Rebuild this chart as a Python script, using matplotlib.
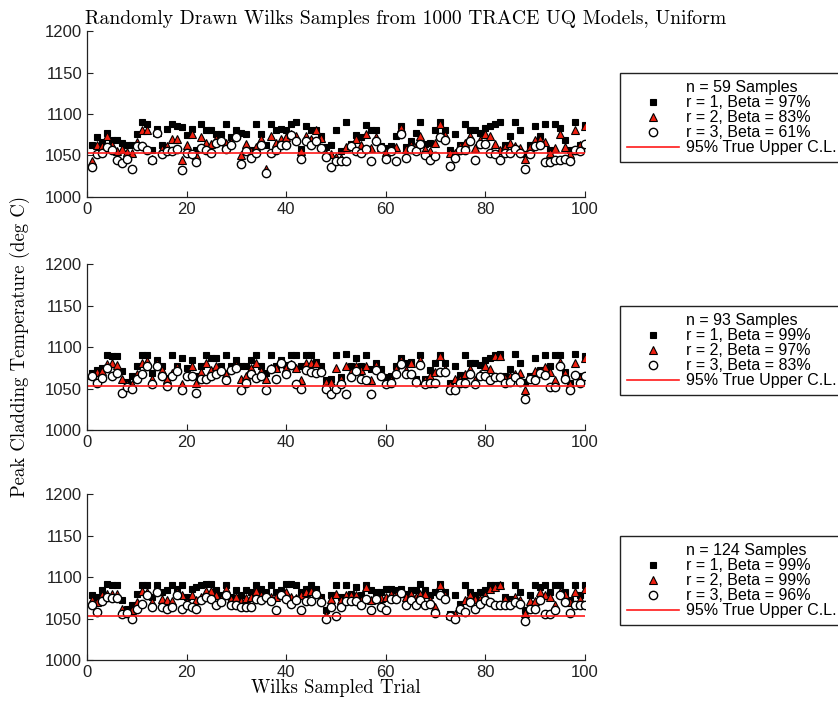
import numpy as np
import matplotlib.pyplot as plt
from matplotlib.lines import Line2D

plt.rcParams['font.family'] = ['Liberation Sans', 'DejaVu Sans']

trial = np.arange(1, 101)
ucl = 1053

# n = 59 samples
p1_r1 = [1063, 1072, 1066, 1077, 1068, 1069, 1065, 1062, 1063, 1076,
         1090, 1088, 1056, 1082, 1063, 1082, 1088, 1085, 1084, 1075,
         1082, 1056, 1088, 1080, 1080, 1076, 1076, 1088, 1072, 1080,
         1077, 1076, 1056, 1088, 1076, 1063, 1088, 1080, 1082, 1080,
         1088, 1090, 1058, 1086, 1080, 1080, 1073, 1060, 1062, 1080,
         1055, 1090, 1064, 1075, 1072, 1087, 1080, 1080, 1061, 1059,
         1061, 1073, 1085, 1060, 1067, 1077, 1090, 1064, 1065, 1080,
         1090, 1080, 1056, 1076, 1063, 1088, 1081, 1080, 1077, 1083,
         1085, 1088, 1090, 1063, 1073, 1090, 1080, 1051, 1063, 1085,
         1073, 1088, 1056, 1088, 1083, 1069, 1056, 1090, 1063, 1087]
p1_r2 = [1043, 1062, 1061, 1073, 1063, 1055, 1058, 1054, 1053, 1066,
         1080, 1080, 1046, 1078, 1058, 1061, 1070, 1070, 1044, 1063,
         1076, 1050, 1072, 1065, 1064, 1070, 1070, 1065, 1066, 1075,
         1050, 1064, 1055, 1060, 1070, 1033, 1073, 1065, 1070, 1072,
         1076, 1073, 1055, 1073, 1070, 1080, 1071, 1051, 1052, 1048,
         1047, 1060, 1062, 1070, 1063, 1076, 1059, 1072, 1060, 1054,
         1058, 1060, 1083, 1058, 1063, 1061, 1073, 1058, 1055, 1065,
         1088, 1075, 1053, 1053, 1061, 1065, 1073, 1059, 1068, 1076,
         1073, 1064, 1056, 1060, 1065, 1061, 1059, 1046, 1060, 1069,
         1070, 1066, 1053, 1059, 1076, 1060, 1051, 1080, 1062, 1085]
p1_r3 = [1036, 1052, 1053, 1060, 1057, 1044, 1041, 1045, 1033, 1061,
         1061, 1056, 1044, 1077, 1051, 1055, 1055, 1058, 1032, 1053,
         1052, 1042, 1059, 1056, 1053, 1065, 1067, 1058, 1062, 1072,
         1040, 1055, 1047, 1053, 1063, 1029, 1053, 1057, 1062, 1063,
         1075, 1067, 1046, 1067, 1063, 1067, 1059, 1048, 1036, 1043,
         1043, 1043, 1061, 1055, 1053, 1058, 1043, 1067, 1059, 1045,
         1055, 1043, 1076, 1047, 1058, 1055, 1064, 1050, 1044, 1049,
         1072, 1069, 1037, 1047, 1056, 1056, 1067, 1044, 1064, 1064,
         1053, 1051, 1044, 1053, 1053, 1058, 1053, 1034, 1051, 1061,
         1062, 1042, 1042, 1044, 1044, 1045, 1043, 1057, 1055, 1064]

# n = 93 samples
p2_r1 = [1069, 1073, 1075, 1091, 1089, 1089, 1071, 1058, 1065, 1077,
         1091, 1091, 1069, 1084, 1077, 1063, 1091, 1077, 1087, 1075,
         1084, 1065, 1077, 1091, 1087, 1087, 1077, 1090, 1077, 1084,
         1077, 1077, 1084, 1090, 1077, 1069, 1090, 1077, 1084, 1079,
         1090, 1090, 1077, 1090, 1090, 1082, 1077, 1060, 1062, 1090,
         1064, 1092, 1077, 1087, 1077, 1090, 1074, 1081, 1074, 1064,
         1065, 1077, 1087, 1081, 1082, 1062, 1090, 1061, 1072, 1081,
         1090, 1081, 1057, 1077, 1066, 1090, 1081, 1081, 1078, 1085,
         1087, 1090, 1092, 1065, 1074, 1092, 1081, 1058, 1065, 1087,
         1073, 1090, 1077, 1090, 1090, 1070, 1057, 1092, 1065, 1089]
p2_r2 = [1066, 1070, 1071, 1080, 1081, 1079, 1062, 1056, 1056, 1067,
         1081, 1083, 1062, 1081, 1073, 1062, 1069, 1076, 1055, 1068,
         1077, 1057, 1070, 1081, 1073, 1077, 1074, 1067, 1075, 1079,
         1062, 1065, 1075, 1081, 1071, 1061, 1075, 1075, 1082, 1075,
         1080, 1075, 1060, 1081, 1081, 1081, 1073, 1058, 1058, 1075,
         1062, 1077, 1070, 1077, 1073, 1077, 1060, 1078, 1068, 1058,
         1060, 1074, 1085, 1073, 1081, 1060, 1085, 1060, 1065, 1070,
         1089, 1074, 1054, 1062, 1062, 1068, 1074, 1060, 1068, 1077,
         1074, 1089, 1089, 1063, 1065, 1067, 1069, 1048, 1064, 1071,
         1071, 1076, 1070, 1060, 1082, 1069, 1055, 1081, 1063, 1087]
p2_r3 = [1065, 1057, 1063, 1075, 1065, 1069, 1045, 1052, 1050, 1062,
         1067, 1077, 1055, 1077, 1065, 1053, 1065, 1071, 1048, 1065,
         1065, 1045, 1061, 1061, 1065, 1067, 1071, 1060, 1073, 1075,
         1048, 1057, 1067, 1063, 1065, 1048, 1074, 1061, 1081, 1067,
         1078, 1055, 1050, 1073, 1070, 1069, 1070, 1049, 1044, 1050,
         1056, 1044, 1064, 1071, 1062, 1060, 1044, 1073, 1065, 1055,
         1057, 1068, 1080, 1068, 1068, 1058, 1079, 1055, 1057, 1057,
         1070, 1070, 1048, 1048, 1057, 1057, 1068, 1055, 1065, 1065,
         1060, 1064, 1064, 1057, 1058, 1064, 1058, 1037, 1062, 1060,
         1069, 1066, 1052, 1052, 1077, 1062, 1048, 1066, 1057, 1065]

# n = 124 samples
p3_r1 = [1079, 1076, 1084, 1092, 1090, 1090, 1072, 1062, 1066, 1080,
         1091, 1091, 1076, 1090, 1082, 1084, 1091, 1086, 1090, 1076,
         1086, 1088, 1091, 1092, 1092, 1084, 1078, 1090, 1076, 1084,
         1078, 1084, 1082, 1090, 1086, 1082, 1090, 1082, 1084, 1092,
         1092, 1091, 1082, 1086, 1091, 1086, 1076, 1060, 1078, 1090,
         1076, 1091, 1080, 1088, 1078, 1090, 1084, 1082, 1082, 1086,
         1086, 1084, 1086, 1080, 1084, 1084, 1092, 1084, 1078, 1082,
         1092, 1082, 1056, 1078, 1068, 1091, 1082, 1078, 1082, 1084,
         1090, 1090, 1091, 1076, 1074, 1091, 1082, 1060, 1078, 1090,
         1088, 1091, 1082, 1090, 1090, 1082, 1072, 1091, 1078, 1090]
p3_r2 = [1072, 1070, 1078, 1080, 1080, 1080, 1062, 1058, 1060, 1070,
         1083, 1082, 1070, 1083, 1074, 1072, 1071, 1082, 1079, 1070,
         1078, 1072, 1076, 1083, 1083, 1078, 1074, 1086, 1074, 1076,
         1071, 1075, 1076, 1083, 1078, 1078, 1076, 1076, 1080, 1082,
         1076, 1075, 1079, 1082, 1083, 1081, 1074, 1054, 1074, 1080,
         1072, 1078, 1079, 1078, 1072, 1088, 1072, 1076, 1075, 1076,
         1080, 1078, 1082, 1076, 1080, 1076, 1080, 1080, 1072, 1064,
         1090, 1078, 1054, 1055, 1064, 1072, 1078, 1074, 1074, 1078,
         1086, 1088, 1090, 1074, 1070, 1076, 1072, 1057, 1071, 1071,
         1082, 1079, 1076, 1067, 1082, 1080, 1070, 1082, 1074, 1086]
p3_r3 = [1066, 1058, 1071, 1076, 1075, 1075, 1056, 1057, 1050, 1062,
         1068, 1079, 1064, 1082, 1064, 1062, 1064, 1078, 1062, 1066,
         1064, 1062, 1072, 1076, 1074, 1066, 1070, 1078, 1066, 1066,
         1064, 1064, 1064, 1074, 1072, 1076, 1071, 1060, 1079, 1074,
         1068, 1072, 1060, 1071, 1071, 1080, 1070, 1049, 1064, 1053,
         1064, 1071, 1071, 1071, 1066, 1074, 1060, 1074, 1064, 1060,
         1074, 1074, 1081, 1066, 1072, 1066, 1072, 1066, 1068, 1057,
         1078, 1074, 1053, 1049, 1062, 1058, 1070, 1062, 1068, 1072,
         1070, 1066, 1066, 1066, 1066, 1070, 1068, 1047, 1062, 1062,
         1072, 1055, 1055, 1060, 1078, 1070, 1057, 1066, 1066, 1066]

n_samples = [59, 93, 124]
betas = [[97, 83, 61], [99, 97, 83], [99, 99, 96]]
panels = [(p1_r1, p1_r2, p1_r3), (p2_r1, p2_r2, p2_r3), (p3_r1, p3_r2, p3_r3)]

fig = plt.figure(figsize=(8.38, 7.06), dpi=100)
bottoms = [0.7214, 0.391, 0.0652]

for k in range(3):
    ax = fig.add_axes([0.1038, bottoms[k], 0.594, 0.2345])
    r1, r2, r3 = panels[k]
    h1, = ax.plot(trial, r1, 's', ms=5, mfc='black', mec='black', mew=0.8)
    h2, = ax.plot(trial, r2, '^', ms=5.5, mfc='#f02010', mec='black', mew=0.8)
    h3, = ax.plot(trial, r3, 'o', ms=6, mfc='white', mec='black', mew=1.0)
    h4 = ax.axhline(ucl, color='#ff1a1a', lw=1.2)

    ax.set_xlim(0, 100)
    ax.set_ylim(1000, 1200)
    ax.set_xticks(range(0, 101, 20))
    ax.set_yticks(range(1000, 1201, 50))
    ax.tick_params(direction='in', length=4, labelsize=12, width=0.8,
                   colors='#222222')
    ax.spines['top'].set_visible(False)
    ax.spines['right'].set_visible(False)
    for s in ['left', 'bottom']:
        ax.spines[s].set_linewidth(0.9)
        ax.spines[s].set_color('#222222')

    dummy = Line2D([], [], linestyle='none', marker='none')
    labels = ['n = %d Samples' % n_samples[k]]
    for i in range(3):
        labels.append('r = %d, Beta = %d%%' % (i + 1, betas[k][i]))
    labels.append('95% True Upper C.L.')
    leg = ax.legend([dummy, h1, h2, h3, h4], labels, loc='upper left',
                    bbox_to_anchor=(1.07, 0.75), fontsize=11.5,
                    frameon=True, fancybox=False, framealpha=1,
                    edgecolor='#222222', handlelength=3.3, handleheight=0.5,
                    handletextpad=0.4, labelspacing=0.0, borderpad=0.45,
                    borderaxespad=0)
    leg.get_frame().set_linewidth(1.0)

fig.text(0.4845, 0.973, 'Randomly Drawn Wilks Samples from 1000 TRACE UQ Models, Uniform',
         ha='center', va='center', fontsize=14.2, family='cmr10')
fig.text(0.401, 0.025, 'Wilks Sampled Trial', ha='center', va='center',
         fontsize=13.5, family='cmr10')
fig.text(0.024, 0.51, 'Peak Cladding Temperature (deg C)', ha='center',
         va='center', rotation=90, fontsize=13.5, family='cmr10')

fig.savefig('out.png', dpi=100)
